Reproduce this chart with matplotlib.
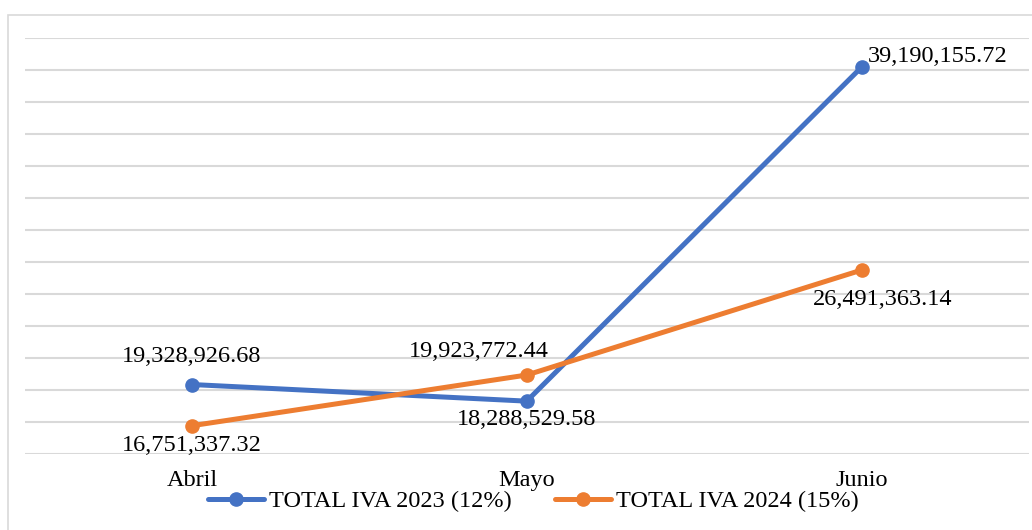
import matplotlib

matplotlib.use("Agg")
import matplotlib.pyplot as plt
from matplotlib.patches import Rectangle

# datos
meses = ["Abril", "Mayo", "Junio"]
iva_2023 = [19328926.68, 18288529.58, 39190155.72]
iva_2024 = [16751337.32, 19923772.44, 26491363.14]
etiqueta_2023 = "TOTAL IVA 2023 (12%)"
etiqueta_2024 = "TOTAL IVA 2024 (15%)"

AZUL = "#4472C4"
NARANJA = "#ED7D31"
GRIS = "#D9D9D9"
TAM = 17.5

plt.rcParams["font.family"] = ["Liberation Serif", "DejaVu Serif"]

fig = plt.figure(figsize=(10.32, 5.30), dpi=100)
ax = fig.add_axes((0.0238, 0.144, 0.9732, 0.7837))

# marco del gráfico
fig.add_artist(Rectangle((8 / 1032, -0.1), 1.2, 1.1 - 15 / 530, transform=fig.transFigure,
                         fill=False, edgecolor=GRIS, linewidth=1.2))

x = range(len(meses))
ax.plot(x, iva_2023, color=AZUL, linewidth=3.6, marker="o", markersize=9.5,
        label=etiqueta_2023, solid_capstyle="round")
ax.plot(x, iva_2024, color=NARANJA, linewidth=3.6, marker="o", markersize=9.5,
        label=etiqueta_2024, solid_capstyle="round")

ax.set_xlim(-0.5, 2.5)
ax.set_ylim(15e6, 41e6)
ax.set_yticks([15e6 + 2e6 * i for i in range(14)])
ax.grid(axis="y", color=GRIS, linewidth=1.5)
ax.set_axisbelow(True)
ax.tick_params(axis="y", left=False, labelleft=False)
ax.tick_params(axis="x", bottom=False, labelsize=TAM, pad=8.5)
ax.set_xticks(list(x))
ax.set_xticklabels(meses)
for s in ax.spines.values():
    s.set_visible(False)

# etiquetas de datos (desplazamientos en pixeles)
desp_2023 = [(0, 28, "center"), (0, -18, "center"), (6, 11, "left")]
desp_2024 = [(0, -20, "center"), (-48, 24, "center"), (21, -29, "center")]
for serie, desp in ((iva_2023, desp_2023), (iva_2024, desp_2024)):
    for i, v in enumerate(serie):
        dx, dy, ha = desp[i]
        ax.annotate(f"{v:,.2f}", (i, v), xytext=(dx, dy), textcoords="offset pixels",
                    ha=ha, va="center", fontsize=TAM, color="black")

ax.legend(loc="center", bbox_to_anchor=(0.517, 0.054), bbox_transform=fig.transFigure,
          ncol=2, frameon=False, fontsize=TAM, handlelength=2.3, handletextpad=0.2,
          columnspacing=1.8, borderaxespad=0, borderpad=0)

fig.savefig("out.png", dpi=100)
